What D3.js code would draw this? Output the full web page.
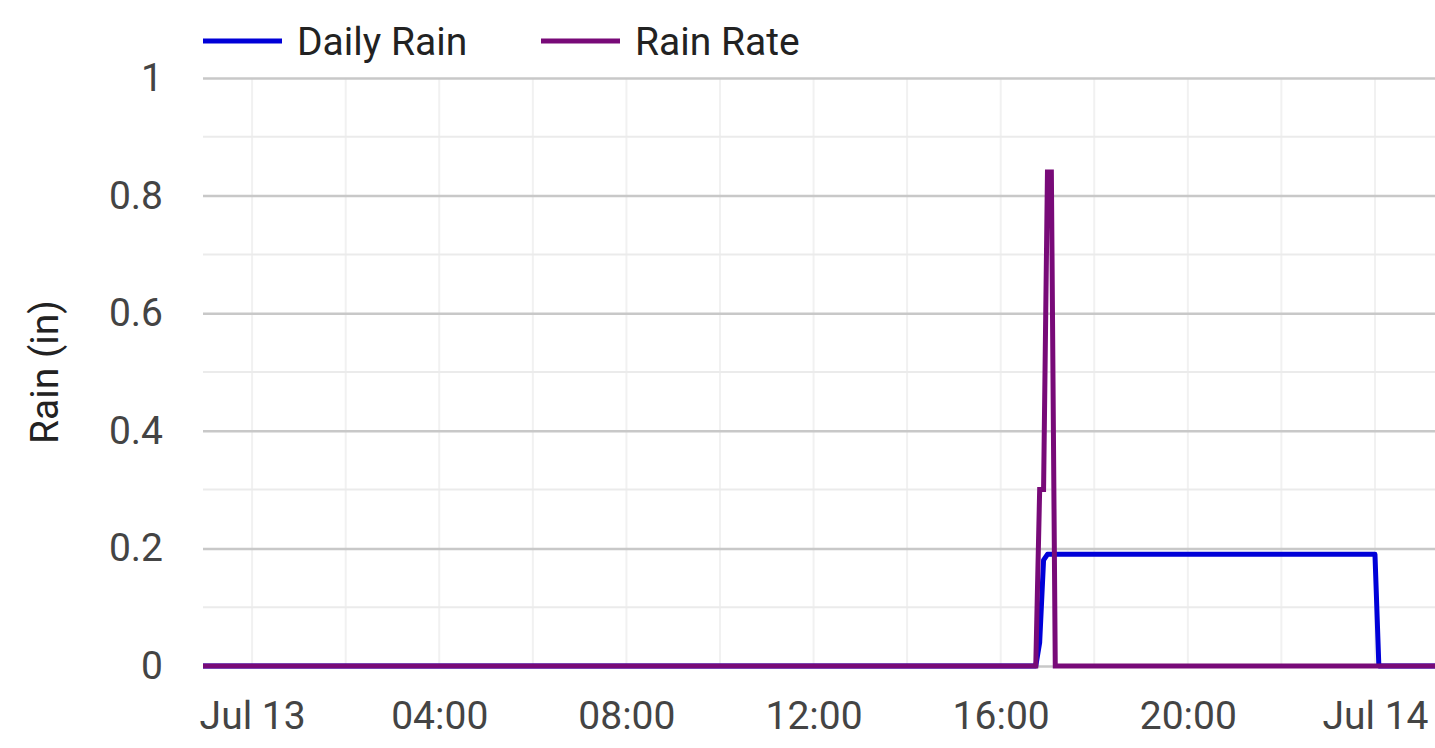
<!DOCTYPE html>
<html>
<head>
<meta charset="utf-8">
<script src="https://cdn.jsdelivr.net/npm/d3@7"></script>
<style>
  body { margin: 0; background: #fff; }
  text { font-family: Roboto, "Noto Sans", sans-serif; }
</style>
</head>
<body>
<div id="chart"></div>
<script>
// data (times are local clock, treated as UTC)
var dailyTimes = ["2023-07-12T22:57", "2023-07-13T16:45", "2023-07-13T16:50", "2023-07-13T16:55",
                  "2023-07-13T17:00", "2023-07-14T00:00", "2023-07-14T00:05", "2023-07-14T01:17"];
var dailyRain  = [0, 0, 0.04, 0.18, 0.19, 0.19, 0, 0];

var rateTimes = ["2023-07-12T22:57", "2023-07-13T16:45", "2023-07-13T16:50", "2023-07-13T16:55",
                 "2023-07-13T17:00", "2023-07-13T17:05", "2023-07-13T17:10", "2023-07-14T01:17"];
var rainRate  = [0, 0, 0.3, 0.3, 0.84, 0.84, 0, 0];

var seriesNames = ["Daily Rain", "Rain Rate"];
var seriesColors = ["#0000d8", "#780a78"];
var yTicks = [0, 0.2, 0.4, 0.6, 0.8, 1];
var xDomain = ["2023-07-12T22:57", "2023-07-14T01:17"];

var svgWidth = 1435;
var svgHeight = 748;

var margin = {
    top: 78,
    bottom: 82,
    right: 0,
    left: 203
};

var chartWidth = svgWidth - margin.left - margin.right;
var chartHeight = svgHeight - margin.top - margin.bottom;

var parse = d3.utcParse("%Y-%m-%dT%H:%M");

var svg = d3.select("#chart")
    .append("svg")
    .attr("width", svgWidth)
    .attr("height", svgHeight);

var chartGroup = svg.append("g")
    .attr("transform", `translate(${margin.left},${margin.top})`);

var xScale = d3.scaleUtc()
    .domain(xDomain.map(parse))
    .range([0, chartWidth]);

var yScale = d3.scaleLinear()
    .domain([0, 1])
    .range([chartHeight, 0]);

// grid: vertical every 2 hours, horizontal minor every 0.1
chartGroup.append("g")
    .selectAll("line")
    .data(xScale.ticks(d3.utcHour.every(2)))
    .enter()
    .append("line")
    .attr("x1", d => xScale(d))
    .attr("x2", d => xScale(d))
    .attr("y1", 0)
    .attr("y2", chartHeight)
    .attr("stroke", "#f1f1f1")
    .attr("stroke-width", 2);

chartGroup.append("g")
    .selectAll("line")
    .data(d3.range(1, 10, 2).map(d => d / 10))
    .enter()
    .append("line")
    .attr("x1", 0)
    .attr("x2", chartWidth)
    .attr("y1", d => yScale(d))
    .attr("y2", d => yScale(d))
    .attr("stroke", "#ebebeb")
    .attr("stroke-width", 2);

// y axis with major grid lines
var yAxis = d3.axisLeft(yScale)
    .tickValues(yTicks)
    .tickSize(-chartWidth)
    .tickPadding(40)
    .tickFormat(d3.format("~g"));

var yAxisGroup = chartGroup.append("g").call(yAxis);
yAxisGroup.select(".domain").remove();
yAxisGroup.selectAll(".tick line")
    .attr("stroke", "#c8c8c8")
    .attr("stroke-width", 2.5);
yAxisGroup.selectAll(".tick text")
    .attr("fill", "#444")
    .style("font-size", "39px");

// x axis
var xAxis = d3.axisBottom(xScale)
    .ticks(d3.utcHour.every(4))
    .tickSize(0)
    .tickPadding(35)
    .tickFormat(d => d.getUTCHours() !== 0 ? d3.utcFormat("%H:%M")(d) : d3.utcFormat("%b %d")(d));

var xAxisGroup = chartGroup.append("g")
    .attr("transform", `translate(0,${chartHeight})`)
    .call(xAxis);
xAxisGroup.select(".domain").remove();
xAxisGroup.selectAll(".tick text")
    .attr("fill", "#444")
    .style("font-size", "39px");

// clip lines to the plot
svg.append("clipPath")
    .attr("id", "plotClip")
    .append("rect")
    .attr("x", 0)
    .attr("y", -20)
    .attr("width", chartWidth)
    .attr("height", chartHeight + 40);

var line = d3.line()
    .x(d => xScale(d.t))
    .y(d => yScale(d.v));

var dailyData = dailyTimes.map((t, i) => ({ t: parse(t), v: dailyRain[i] }));
var rateData = rateTimes.map((t, i) => ({ t: parse(t), v: rainRate[i] }));

var linesGroup = chartGroup.append("g").attr("clip-path", "url(#plotClip)");

linesGroup.append("path")
    .datum(dailyData)
    .attr("d", line)
    .attr("fill", "none")
    .attr("stroke", seriesColors[0])
    .attr("stroke-width", 5)
    .attr("stroke-linejoin", "round");

linesGroup.append("path")
    .datum(rateData)
    .attr("d", line)
    .attr("fill", "none")
    .attr("stroke", seriesColors[1])
    .attr("stroke-width", 5);

// y label
svg.append("text")
    .attr("transform", `translate(58, ${margin.top + chartHeight / 2}) rotate(-90)`)
    .attr("text-anchor", "middle")
    .attr("fill", "#222")
    .style("font-size", "39px")
    .text("Rain (in)");

// legend
var legendX = [203, 541];
var legend = svg.selectAll(".legend")
    .data(seriesNames)
    .enter()
    .append("g")
    .attr("class", "legend")
    .attr("transform", (d, i) => `translate(${legendX[i]}, 41)`);

legend.append("line")
    .attr("x1", 0)
    .attr("x2", 79)
    .attr("stroke", (d, i) => seriesColors[i])
    .attr("stroke-width", 5);

legend.append("text")
    .attr("x", 94)
    .attr("dy", "0.35em")
    .attr("fill", "#222")
    .style("font-size", "39px")
    .text(d => d);
</script>
</body>
</html>
